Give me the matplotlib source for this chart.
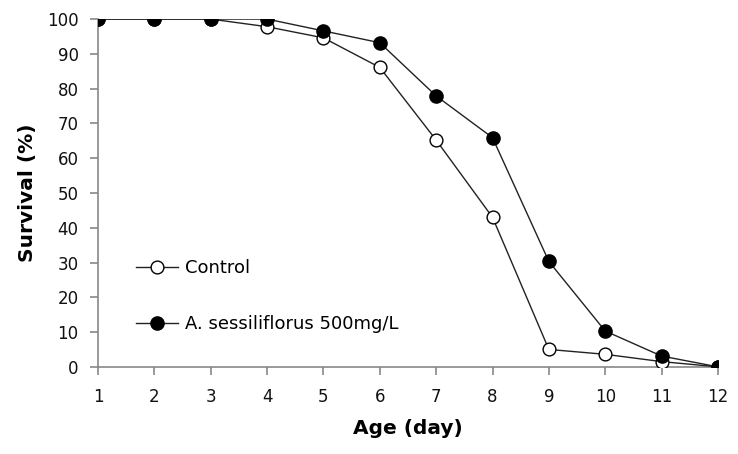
import matplotlib
matplotlib.use("Agg")
import matplotlib.pyplot as plt

days = [1, 2, 3, 4, 5, 6, 7, 8, 9, 10, 11, 12]
control = [100, 100, 100, 97.8, 94.6, 86.1, 65.2, 43.0, 5.0, 3.6, 1.5, 0]
treated = [100, 100, 100, 100, 96.6, 93.2, 77.9, 65.9, 30.3, 10.3, 3.1, 0]
x_ticks = list(range(1, 13))
y_ticks = list(range(0, 101, 10))

fig = plt.figure(figsize=(7.38, 4.54), dpi=100)
ax = fig.add_axes([0.1328, 0.192, 0.840, 0.766])

ax.plot(days, control, color="#222222", lw=1.0, marker="o", ms=9.2,
        mfc="white", mec="black", mew=1.0, label="Control", zorder=3)
ax.plot(days, treated, color="#222222", lw=1.0, marker="o", ms=9.5,
        mfc="black", mec="black", mew=1.0, label="A. sessiliflorus 500mg/L", zorder=4)

ax.set_xlim(1, 12)
ax.set_ylim(0, 100)
ax.set_xticks(x_ticks)
ax.set_yticks(y_ticks)
for s in ["top", "right"]:
    ax.spines[s].set_visible(False)
for s in ["left", "bottom"]:
    ax.spines[s].set_color("#888888")
    ax.spines[s].set_linewidth(1.2)
ax.tick_params(axis="both", colors="#888888", labelcolor="#111111", labelsize=12, length=5.5, width=1.2)
ax.tick_params(axis="x", pad=10)
ax.tick_params(axis="y", pad=8.5)
for lbl in ax.get_xticklabels() + ax.get_yticklabels():
    lbl.set_clip_on(False)

ax.set_xlabel("Age (day)", fontsize=14.5, fontweight="bold", labelpad=9)
ax.set_ylabel("Survival (%)", fontsize=14.5, fontweight="bold", labelpad=7.5)

leg = ax.legend(loc="upper left", bbox_to_anchor=(0.05, 0.33), frameon=False,
                fontsize=13, handlelength=2.33, handletextpad=0.35,
                labelspacing=2.1, markerscale=1.0, borderaxespad=0)

fig.savefig("out.png", dpi=100)
